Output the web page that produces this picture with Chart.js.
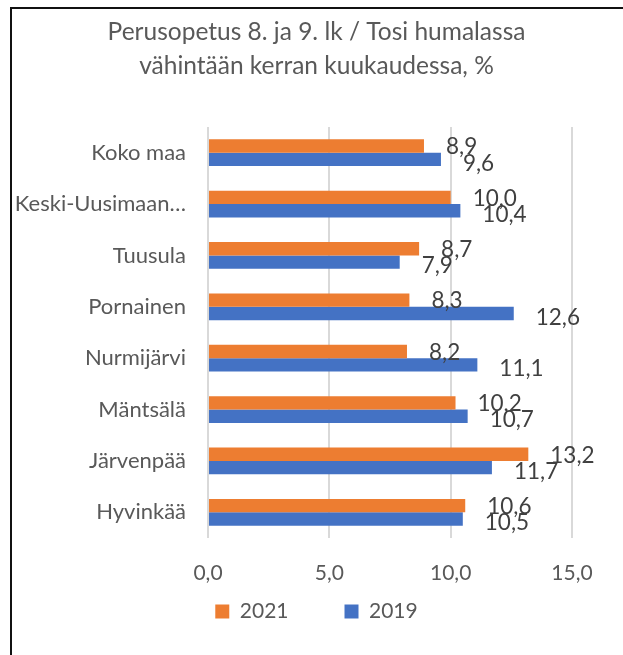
<!DOCTYPE html>
<html>
<head>
<meta charset="utf-8">
<script src="https://cdn.jsdelivr.net/npm/chart.js@4.4.1/dist/chart.umd.min.js"></script>
<style>
  html, body { margin: 0; padding: 0; background: #fff; overflow: hidden; }
  #frame { position: absolute; left: 10px; top: 7px; width: 700px; height: 700px; border: 2px solid #111; }
  #chart { position: absolute; left: 0; top: 0; }
</style>
</head>
<body>
<div id="frame"></div>
<canvas id="chart" width="623" height="655"></canvas>
<script>
// data
const categories = ['Koko maa', 'Keski-Uusimaan…', 'Tuusula', 'Pornainen', 'Nurmijärvi', 'Mäntsälä', 'Järvenpää', 'Hyvinkää'];
const values2021 = [8.9, 10.0, 8.7, 8.3, 8.2, 10.2, 13.2, 10.6];
const values2019 = [9.6, 10.4, 7.9, 12.6, 11.1, 10.7, 11.7, 10.5];
const xMin = 0;
const xMax = 15;
const xStep = 5;

const FONT = 'Lato';
const fmt = v => v.toFixed(1).replace('.', ',');

// value labels next to bar ends
const valueLabels = {
  id: 'valueLabels',
  afterDatasetsDraw(chart) {
    const ctx = chart.ctx;
    ctx.save();
    ctx.font = '22.5px ' + FONT;
    ctx.fillStyle = '#404040';
    ctx.textBaseline = 'middle';
    ctx.textAlign = 'left';
    chart.data.datasets.forEach((ds, i) => {
      const meta = chart.getDatasetMeta(i);
      meta.data.forEach((bar, j) => {
        ctx.fillText(fmt(ds.data[j]), bar.x + 22, bar.y + (i === 0 ? 1 : 4));
      });
    });
    ctx.restore();
  }
};

new Chart(document.getElementById('chart'), {
  type: 'bar',
  data: {
    labels: categories,
    datasets: [
      { label: '2021', data: values2021, backgroundColor: '#ED7D31', categoryPercentage: 0.52, barPercentage: 1 },
      { label: '2019', data: values2019, backgroundColor: '#4472C4', categoryPercentage: 0.52, barPercentage: 1 }
    ]
  },
  options: {
    indexAxis: 'y',
    responsive: false,
    animation: false,
    devicePixelRatio: 1,
    layout: { padding: { left: 10, top: 8, right: 0, bottom: 23 } },
    plugins: {
      title: {
        display: true,
        text: ['Perusopetus 8. ja 9. lk / Tosi humalassa', 'vähintään kerran kuukaudessa, %'],
        color: '#595959',
        font: { family: FONT, size: 24.5, weight: 'normal', lineHeight: '34px' },
        padding: { top: 7, bottom: 44 }
      },
      legend: {
        position: 'bottom',
        labels: {
          color: '#595959',
          font: { family: FONT, size: 21 },
          boxWidth: 14,
          boxHeight: 14,
          padding: 13,
          // wider gap between the two legend entries
          generateLabels(chart) {
            const items = Chart.defaults.plugins.legend.labels.generateLabels(chart);
            items.forEach((it, i) => {
              if (i < items.length - 1) it.text = it.text + '\u00A0'.repeat(8);
            });
            return items;
          }
        }
      },
      tooltip: { enabled: false }
    },
    scales: {
      x: {
        min: xMin,
        max: xMax,
        ticks: {
          stepSize: xStep,
          color: '#595959',
          font: { family: FONT, size: 21 },
          padding: 23,
          callback: v => fmt(v)
        },
        grid: { color: '#D9D9D9', lineWidth: 2, drawTicks: false },
        border: { display: false },
        afterFit(s) { s.height = 50; }
      },
      y: {
        ticks: { color: '#595959', font: { family: FONT, size: 22 }, padding: 22 },
        grid: { display: false, drawTicks: false },
        border: { display: false },
        afterFit(s) { s.width = 198; }
      },
      yRight: {
        type: 'linear',
        position: 'right',
        ticks: { display: false },
        grid: { display: false, drawTicks: false },
        border: { display: false },
        afterFit(s) { s.width = 51; }
      }
    }
  },
  plugins: [valueLabels]
});
</script>
</body>
</html>
